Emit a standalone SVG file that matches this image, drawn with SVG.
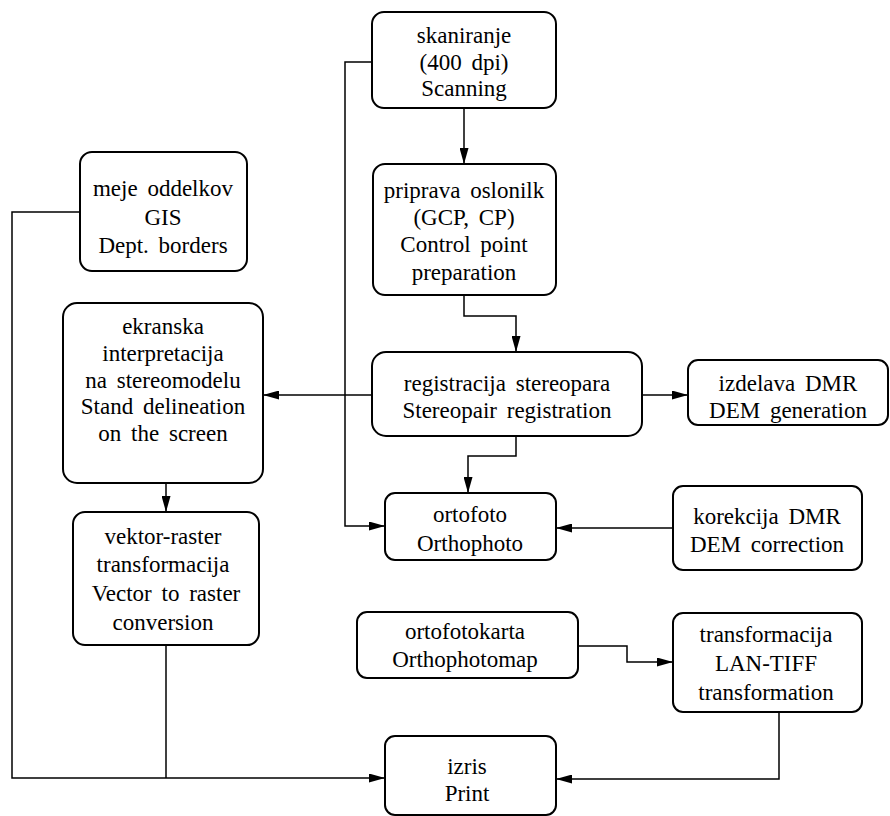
<svg xmlns="http://www.w3.org/2000/svg" width="890" height="816" viewBox="0 0 890 816">
<defs>
<marker id="ah" viewBox="0 0 16 9" refX="16" refY="4.5" markerWidth="16" markerHeight="9" markerUnits="userSpaceOnUse" orient="auto">
<path d="M0,0 L16,4.5 L0,9 Z" fill="#000"/>
</marker>
</defs>
<style>
.box{fill:#fff;stroke:#000;stroke-width:2}
.t{font-family:"Liberation Serif","Times New Roman",serif;font-size:23px;fill:#000;text-anchor:middle;word-spacing:4px}
.c{fill:none;stroke:#000;stroke-width:1.5}
</style>
<rect width="890" height="816" fill="#fff"/>
<g id="connectors">
<path class="c" d="M464,108 V164" marker-end="url(#ah)"/>
<path class="c" d="M372,62 H345 V526 H385" marker-end="url(#ah)"/>
<path class="c" d="M464,295 V316 H516 V352" marker-end="url(#ah)"/>
<path class="c" d="M372,395 H263" marker-end="url(#ah)"/>
<path class="c" d="M642,395 H688" marker-end="url(#ah)"/>
<path class="c" d="M516,436 V456 H468 V493" marker-end="url(#ah)"/>
<path class="c" d="M673,528 H556" marker-end="url(#ah)"/>
<path class="c" d="M166,483 V512" marker-end="url(#ah)"/>
<path class="c" d="M80,212 H12 V778 H385" marker-end="url(#ah)"/>
<path class="c" d="M166,645 V778"/>
<path class="c" d="M578,646 H627 V662 H673" marker-end="url(#ah)"/>
<path class="c" d="M779,712 V779 H556" marker-end="url(#ah)"/>
</g>
<g id="n-skaniranje">
<rect class="box" x="372" y="12" width="184" height="96" rx="12"/>
<text class="t" x="464" y="43">skaniranje</text>
<text class="t" x="464" y="70">(400 dpi)</text>
<text class="t" x="464" y="96">Scanning</text>
</g>
<g id="n-priprava">
<rect class="box" x="373" y="164" width="183" height="131" rx="12"/>
<text class="t" x="464" y="198">priprava oslonilk</text>
<text class="t" x="464" y="225">(GCP, CP)</text>
<text class="t" x="464" y="252">Control point</text>
<text class="t" x="464" y="280">preparation</text>
</g>
<g id="n-meje">
<rect class="box" x="80" y="152" width="167" height="119" rx="12"/>
<text class="t" x="163" y="196">meje oddelkov</text>
<text class="t" x="163" y="225">GIS</text>
<text class="t" x="163" y="253">Dept. borders</text>
</g>
<g id="n-ekranska">
<rect class="box" x="63" y="303" width="200" height="180" rx="14"/>
<text class="t" x="163" y="334">ekranska</text>
<text class="t" x="163" y="361">interpretacija</text>
<text class="t" x="163" y="388">na stereomodelu</text>
<text class="t" x="163" y="414">Stand delineation</text>
<text class="t" x="163" y="441">on the screen</text>
</g>
<g id="n-registracija">
<rect class="box" x="372" y="352" width="270" height="84" rx="14"/>
<text class="t" x="507" y="391">registracija stereopara</text>
<text class="t" x="507" y="418">Stereopair registration</text>
</g>
<g id="n-izdelava">
<rect class="box" x="688" y="360" width="200" height="65" rx="10"/>
<text class="t" x="788" y="391">izdelava DMR</text>
<text class="t" x="788" y="418">DEM generation</text>
</g>
<g id="n-ortofoto">
<rect class="box" x="385" y="493" width="171" height="67" rx="10"/>
<text class="t" x="470" y="522">ortofoto</text>
<text class="t" x="470" y="551">Orthophoto</text>
</g>
<g id="n-korekcija">
<rect class="box" x="673" y="486" width="189" height="84" rx="10"/>
<text class="t" x="767" y="524">korekcija DMR</text>
<text class="t" x="767" y="552">DEM correction</text>
</g>
<g id="n-vektor">
<rect class="box" x="73" y="512" width="186" height="133" rx="12"/>
<text class="t" x="163" y="544">vektor-raster</text>
<text class="t" x="163" y="572">transformacija</text>
<text class="t" x="166" y="601">Vector to raster</text>
<text class="t" x="163" y="630">conversion</text>
</g>
<g id="n-ortofotokarta">
<rect class="box" x="357" y="612" width="221" height="66" rx="10"/>
<text class="t" x="465" y="639">ortofotokarta</text>
<text class="t" x="465" y="667">Orthophotomap</text>
</g>
<g id="n-transformacija">
<rect class="box" x="673" y="613" width="189" height="99" rx="10"/>
<text class="t" x="766" y="642">transformacija</text>
<text class="t" x="766" y="671">LAN-TIFF</text>
<text class="t" x="766" y="700">transformation</text>
</g>
<g id="n-izris">
<rect class="box" x="385" y="736" width="171" height="79" rx="10"/>
<text class="t" x="467" y="774">izris</text>
<text class="t" x="467" y="801">Print</text>
</g>
</svg>
